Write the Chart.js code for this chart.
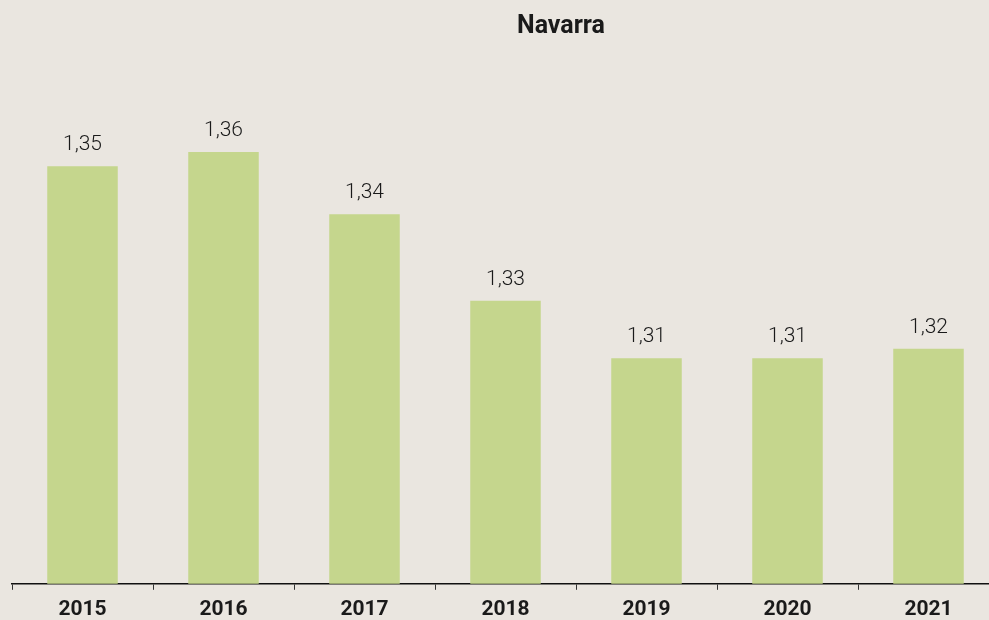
<!DOCTYPE html>
<html>
<head>
<meta charset="utf-8">
<script src="https://cdn.jsdelivr.net/npm/chart.js@4"></script>
<style>
  html, body { margin: 0; padding: 0; background: #eae6e0; overflow: hidden; }
  #wrap { width: 1000px; height: 629px; position: relative; }
</style>
</head>
<body>
<div id="wrap"><canvas id="graph"></canvas></div>
<script>
'use strict';

var title = 'Navarra';
var years = ['2015', '2016', '2017', '2018', '2019', '2020', '2021'];
var values = [1.354, 1.357, 1.344, 1.326, 1.314, 1.314, 1.316];

var bg = '#eae6e0';
var barColor = '#c5d68d';
var ink = '#1a1a1a';

function fmt(v) {
  return (Math.round(v * 100) / 100).toFixed(2).replace('.', ',');
}

// paint the background and the title, then the value labels over the bars
var decor = {
  id: 'decor',
  beforeDraw: function(chart) {
    var ctx = chart.ctx;
    ctx.save();
    ctx.fillStyle = bg;
    ctx.fillRect(0, 0, chart.width, chart.height);
    ctx.restore();
  },
  afterDatasetsDraw: function(chart) {
    var ctx = chart.ctx;
    ctx.save();
    ctx.fillStyle = ink;
    ctx.textAlign = 'center';
    ctx.textBaseline = 'alphabetic';
    ctx.font = 'bold 25px Roboto';
    ctx.fillText(title, 561, 33);

    ctx.font = '300 21px Roboto';
    var meta = chart.getDatasetMeta(0);
    meta.data.forEach(function(bar, i) {
      ctx.fillText(fmt(values[i]), bar.x, bar.y - 16);
    });
    ctx.restore();
  }
};

var ctx = document.getElementById('graph').getContext('2d');
var myChart = new Chart(ctx, {
  type: 'bar',
  data: {
    labels: years,
    datasets: [{
      data: values,
      backgroundColor: barColor,
      categoryPercentage: 1.0,
      barPercentage: 0.5
    }]
  },
  options: {
    responsive: true,
    maintainAspectRatio: false,
    animation: false,
    layout: { padding: { left: 12, right: 1, top: 50, bottom: 0 } },
    plugins: {
      legend: { display: false },
      tooltip: { enabled: false },
      title: { display: false }
    },
    scales: {
      x: {
        grid: {
          drawOnChartArea: false,
          drawTicks: true,
          tickLength: 6,
          color: '#333'
        },
        border: { display: true, color: '#111', width: 1.5 },
        ticks: {
          color: ink,
          padding: 7,
          font: { family: 'Roboto', size: 21, weight: 'bold' }
        }
      },
      y: {
        display: false,
        min: 1.267,
        max: 1.37825
      }
    }
  },
  plugins: [decor]
});
</script>
</body>
</html>
